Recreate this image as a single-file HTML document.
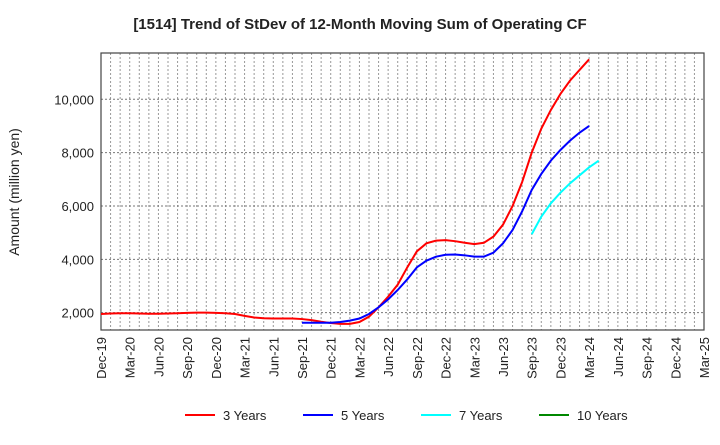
<!DOCTYPE html>
<html><head><meta charset="utf-8"><style>
body{margin:0;background:#fff;font-family:"Liberation Sans",sans-serif}
</style></head><body>
<svg id="c" width="720" height="440" font-family="Liberation Sans, sans-serif"></svg>
<script>
const xLabels=["Dec-19","Mar-20","Jun-20","Sep-20","Dec-20","Mar-21","Jun-21","Sep-21","Dec-21","Mar-22","Jun-22","Sep-22","Dec-22","Mar-23","Jun-23","Sep-23","Dec-23","Mar-24","Jun-24","Sep-24","Dec-24","Mar-25"];
const yTicks=[2000,4000,6000,8000,10000];
const s3start=0;
const s3=[1950,1970,1980,1980,1970,1960,1960,1970,1980,1990,2000,2000,1990,1980,1950,1880,1820,1790,1780,1780,1780,1760,1720,1660,1610,1580,1580,1650,1850,2200,2600,3050,3700,4300,4600,4700,4720,4680,4620,4570,4620,4850,5300,6000,6900,8000,8900,9600,10200,10700,11100,11500];
const s5start=21;
const s5=[1620,1620,1620,1620,1650,1700,1780,1950,2200,2500,2850,3250,3700,3950,4100,4170,4180,4150,4100,4100,4250,4600,5100,5800,6600,7200,7700,8100,8450,8750,9000];
const s7start=45;
const s7=[4940,5600,6100,6500,6850,7150,7450,7700];
const L=101,R=704,T=53,B=330;
const X=m=>L+m*(R-L)/63;
const Y=v=>366-v*0.02667;
const svg=document.getElementById('c');const NS='http://www.w3.org/2000/svg';
function el(t,a,p){const e=document.createElementNS(NS,t);for(const k in a)e.setAttribute(k,a[k]);(p||svg).appendChild(e);return e;}
let t=el('text',{x:360,y:29,'text-anchor':'middle','font-size':15,'font-weight':'bold',fill:'#222'});t.textContent='[1514]  Trend of StDev of 12-Month Moving Sum of Operating CF';

for(let m=1;m<63;m++){const g=el('line',{x1:X(m),x2:X(m),y1:T,y2:B,stroke:'#999','stroke-dasharray':'2,2','stroke-width':1});}
yTicks.forEach(v=>{const g=el('line',{x1:L,x2:R,y1:Y(v),y2:Y(v),stroke:'#777','stroke-dasharray':'2,2'});
const l=el('text',{x:L-7,y:Y(v)+5,'text-anchor':'end','font-size':13,fill:'#222'});l.textContent=v.toLocaleString('en-US');});
xLabels.forEach((s,i)=>{const x=X(i*3);const l=el('text',{transform:`translate(${x+5},${B+7}) rotate(-90)`,'text-anchor':'end','font-size':13,fill:'#222'});l.textContent=s;});
const fr=el('rect',{x:L,y:T,width:R-L,height:B-T,fill:'none',stroke:'#444','stroke-width':1.2});
const yt=el('text',{transform:'translate(19,192) rotate(-90)','text-anchor':'middle','font-size':14,fill:'#222'});yt.textContent='Amount (million yen)';
function line(d,st,c,n){const p=el('polyline',{points:d.map((v,i)=>X(st+i)+','+Y(v)).join(' '),fill:'none',stroke:c,'stroke-width':2});}
line(s3,s3start,'#f00','series-3-years');line(s5,s5start,'#00f','series-5-years');line(s7,s7start,'#0ff','series-7-years');
[['3 Years','#f00',185],['5 Years','#00f',303],['7 Years','#0ff',421],['10 Years','#080',539]].forEach(([n,c,x])=>{
const g=el('g',{});
el('line',{x1:x,x2:x+30,y1:415,y2:415,stroke:c,'stroke-width':2},g);
const tx=el('text',{x:x+38,y:420,'font-size':13,fill:'#222'},g);tx.textContent=n;});
</script></body></html>
